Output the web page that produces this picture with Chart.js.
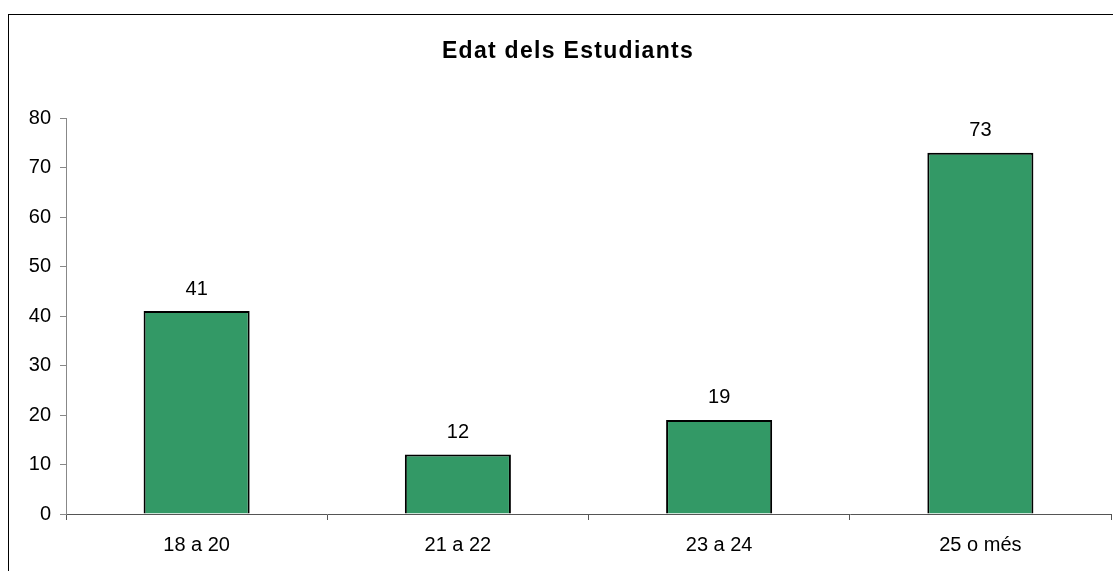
<!DOCTYPE html>
<html>
<head>
<meta charset="utf-8">
<script src="https://cdn.jsdelivr.net/npm/chart.js@4/dist/chart.umd.min.js"></script>
<style>
  html, body { margin: 0; padding: 0; background: #fff; }
  #wrap { position: relative; width: 1113px; height: 571px; }
</style>
</head>
<body>
<div id="wrap"><canvas id="c" width="1113" height="571"></canvas></div>
<script>
const titleText = "Edat dels Estudiants";
const categories = ["18 a 20", "21 a 22", "23 a 24", "25 o més"];
const values = [41, 12, 19, 73];
const yMin = 0, yMax = 80, yStep = 10;

const frame = {
  id: 'frame',
  beforeDraw(chart) {
    const ctx = chart.ctx;
    ctx.save();
    ctx.fillStyle = '#fff';
    ctx.fillRect(0, 0, chart.width, chart.height);
    ctx.strokeStyle = '#000';
    ctx.lineWidth = 1;
    ctx.strokeRect(8.5, 14.5, 1300, 800);
    // title
    ctx.font = 'bold 23px "Liberation Sans", Arial, sans-serif';
    ctx.fillStyle = '#000';
    ctx.textAlign = 'center';
    ctx.textBaseline = 'middle';
    if ('letterSpacing' in ctx) ctx.letterSpacing = '1.3px';
    ctx.fillText(titleText, 568, 52);
    ctx.restore();
  }
};

const labels = {
  id: 'valueLabels',
  afterDatasetsDraw(chart) {
    const ctx = chart.ctx;
    const meta = chart.getDatasetMeta(0);
    ctx.save();
    ctx.font = '20px "Liberation Sans", Arial, sans-serif';
    ctx.fillStyle = '#000';
    ctx.textAlign = 'center';
    ctx.textBaseline = 'middle';
    meta.data.forEach((bar, i) => {
      ctx.fillText(String(values[i]), bar.x, bar.y - 22);
    });
    ctx.restore();
  }
};

new Chart(document.getElementById('c'), {
  type: 'bar',
  data: {
    labels: categories,
    datasets: [{
      data: values,
      backgroundColor: '#339966',
      borderColor: '#000',
      borderWidth: 2,
      categoryPercentage: 1.0,
      barPercentage: 0.406
    }]
  },
  options: {
    responsive: false,
    animation: false,
    devicePixelRatio: 1,
    layout: { padding: { left: 0, right: 2, top: 118, bottom: 0 } },
    plugins: {
      legend: { display: false },
      tooltip: { enabled: false },
      title: { display: false }
    },
    scales: {
      x: {
        offset: true,
        afterFit(s) { s.height = 57; },
        grid: { offset: true, drawOnChartArea: false, drawTicks: true, tickLength: 6, color: '#555' },
        border: { display: true, color: '#555', width: 1 },
        ticks: {
          color: '#000',
          padding: 13,
          font: { family: '"Liberation Sans", Arial, sans-serif', size: 20 }
        }
      },
      y: {
        min: yMin, max: yMax,
        afterFit(s) { s.width = 66; },
        grid: { drawOnChartArea: false, drawTicks: true, tickLength: 6, color: '#888' },
        border: { display: true, color: '#888', width: 1 },
        ticks: {
          stepSize: yStep,
          color: '#000',
          padding: 9,
          font: { family: '"Liberation Sans", Arial, sans-serif', size: 20 }
        }
      }
    }
  },
  plugins: [frame, labels]
});
</script>
</body>
</html>
